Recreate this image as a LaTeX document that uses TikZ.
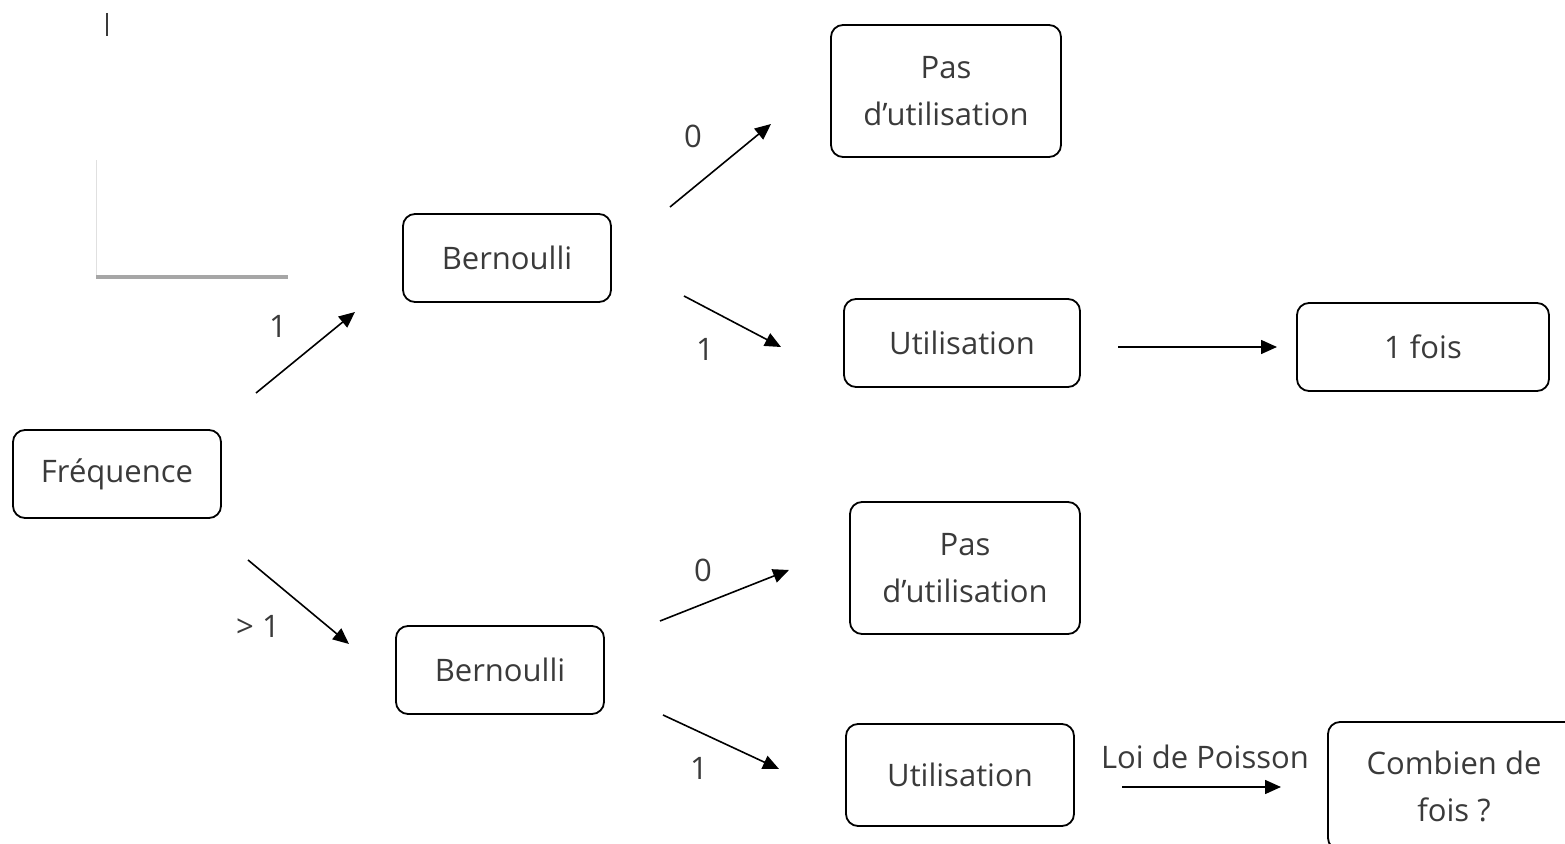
\documentclass[tikz,border=0pt]{standalone}
\usepackage{fontspec}
\setmainfont{Open Sans}
\usepackage{xcolor}
\usepackage{tikz}
\usetikzlibrary{positioning,arrows.meta,calc}

\definecolor{txt}{HTML}{3A3A3A}

\begin{document}
\begin{tikzpicture}[
  x=0.5pt, y=-0.5pt,
  box/.style={draw, line width=0.9pt, rounded corners=6pt, font=\fontsize{15.5}{23.5}\selectfont, text=txt, align=center, inner sep=0pt},
  wide/.style={box, minimum width=104pt, minimum height=44pt},
  tall/.style={box, minimum width=115pt, minimum height=66pt},
  lab/.style={font=\fontsize{15.5}{18}\selectfont, text=txt},
  arr/.style={-{Triangle[length=8pt,width=7pt]}, line width=0.8pt}
]
\useasboundingbox (0,0) rectangle (1565,844);

% nodes
\node[wide] (freq) at (117,474) {Fréquence};
\node[wide] (bern1) at (507,258) {Bernoulli};
\node[wide] (bern2) at (500,670) {Bernoulli};
\node[tall] (pas1) at (946,91) {Pas\\d’utilisation};
\node[wide, minimum width=118pt] (util1) at (962,343) {Utilisation};
\node[wide, minimum width=126pt] (fois1) at (1423,347) {1 fois};
\node[tall] (pas2) at (965,568) {Pas\\d’utilisation};
\node[wide, minimum width=114pt, minimum height=51pt] (util2) at (960,775) {Utilisation};
\node[box, minimum width=126pt, minimum height=64pt] (combien) at (1454,786) {Combien de\\fois ?};

% free arrow ends
\coordinate (a1s) at (256,393); \coordinate (a1e) at (355,312);
\coordinate (a2s) at (248,560); \coordinate (a2e) at (349,644);
\coordinate (a3s) at (670,207); \coordinate (a3e) at (771,124);
\coordinate (a4s) at (684,296); \coordinate (a4e) at (781,347);
\coordinate (a5s) at (1118,347); \coordinate (a5e) at (1277,347);
\coordinate (a6s) at (660,621); \coordinate (a6e) at (789,570);
\coordinate (a7s) at (663,715); \coordinate (a7e) at (779,769);
\coordinate (a8s) at (1122,787); \coordinate (a8e) at (1281,787);

\draw[arr] (a1s) -- (a1e);
\draw[arr] (a2s) -- (a2e);
\draw[arr] (a3s) -- (a3e);
\draw[arr] (a4s) -- (a4e);
\draw[arr] (a5s) -- (a5e);
\draw[arr] (a6s) -- (a6e);
\draw[arr] (a7s) -- (a7e);
\draw[arr] (a8s) -- (a8e);

% labels
\node[lab] (l1) at (278,326) {1};
\node[lab] (l2) at (258,626) {> 1};
\node[lab] (l3) at (693,136) {0};
\node[lab] (l4) at (705,349) {1};
\node[lab] (l6) at (703,570) {0};
\node[lab] (l7) at (699,768) {1};
\node[lab] (l8) at (1205,757) {Loi de Poisson};

% stray marks
\draw[line width=1.3pt, txt] (107,13) -- (107,36);
\draw[line width=0.5pt, black!12] (96,160) -- (96,275);
\draw[line width=2pt, black!35] (96,277) -- (288,277);
\end{tikzpicture}
\end{document}
